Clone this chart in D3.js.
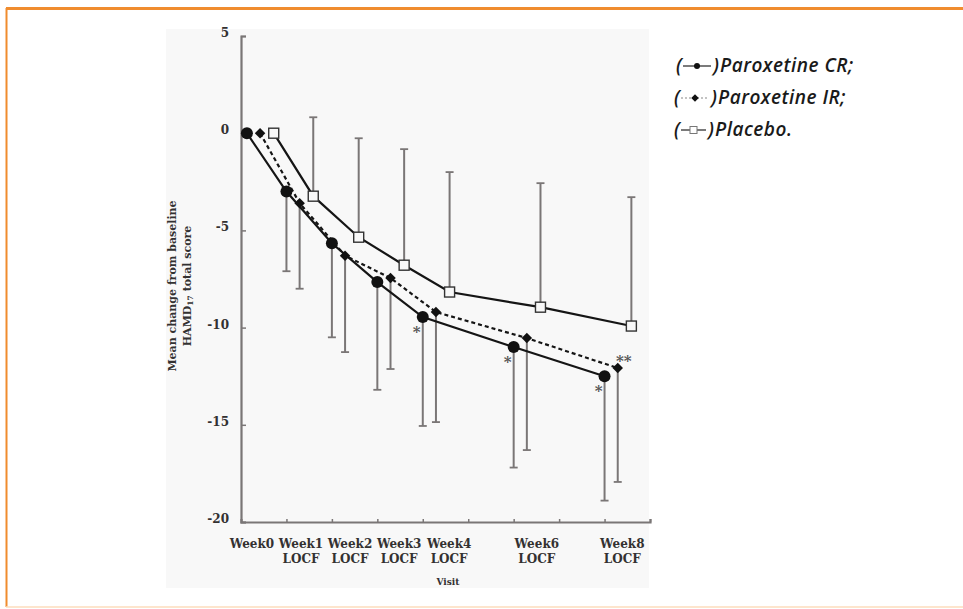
<!DOCTYPE html>
<html>
<head>
<meta charset="utf-8">
<script src="https://cdn.jsdelivr.net/npm/d3@7"></script>
<style>
  body { margin: 0; background: #fff; }
  svg { display: block; }
</style>
</head>
<body>
<div id="chart"></div>
<script>
const visits = ["Week0", "Week1", "Week2", "Week3", "Week4", "Week6", "Week8"];
const visitSub = ["", "LOCF", "LOCF", "LOCF", "LOCF", "LOCF", "LOCF"];
const visitPos = [0.13, 1, 2, 3, 4, 6, 8];
const labelPos = [0.24, 1.32, 2.4, 3.48, 4.58, 6.51, 8.39];

const crMean = [0, -3.0, -5.66, -7.66, -9.46, -11.0, -12.5];
const crLow = [null, -7.1, -10.5, -13.2, -15.06, -17.2, -18.9];
const irMean = [0, -3.6, -6.3, -7.45, -9.2, -10.54, -12.08];
const irLow = [null, -8.0, -11.26, -12.13, -14.86, -16.3, -17.94];
const pboMean = [0, -3.24, -5.35, -6.79, -8.17, -8.95, -9.92];
const pboHigh = [null, 0.82, -0.26, -0.82, -2.0, -2.57, -3.29];

const yTicks = [5, 0, -5, -10, -15, -20];
const sigMarks = [
    { visit: 4, series: "cr", text: "*" },
    { visit: 5, series: "cr", text: "*" },
    { visit: 6, series: "cr", text: "*" },
    { visit: 6, series: "ir", text: "**" }
];
const legendItems = ["Paroxetine CR;", "Paroxetine IR;", "Placebo."];

const width = 963, height = 609;
const svg = d3.select("#chart").append("svg")
    .attr("width", width)
    .attr("height", height);

// page frame
svg.append("line").attr("x1", 6).attr("x2", width).attr("y1", 8.5).attr("y2", 8.5)
    .attr("stroke", "#f08c2e").attr("stroke-width", 3);
svg.append("line").attr("x1", 6.5).attr("x2", 6.5).attr("y1", 8).attr("y2", 607)
    .attr("stroke", "#f08c2e").attr("stroke-width", 2);
svg.append("line").attr("x1", 6).attr("x2", width).attr("y1", 607).attr("y2", 607)
    .attr("stroke", "#fcdcbc").attr("stroke-width", 1.5);

// chart panel
svg.append("rect").attr("x", 166).attr("y", 29).attr("width", 483).attr("height", 559)
    .attr("fill", "#f8f8f8");

const x = d3.scaleLinear().domain([0, 9]).range([241, 650]);
const y = d3.scaleLinear().domain([-20, 5]).range([522, 36]);

const serif = "'DejaVu Serif', serif";
const axisCol = "#7a7676";
const textCol = "#333131";

// y axis
const yAxis = svg.append("g")
    .attr("transform", `translate(${x(0)},0)`)
    .call(d3.axisRight(y).tickValues(yTicks).tickSize(5).tickFormat(""));
yAxis.select(".domain").attr("stroke", axisCol).attr("stroke-width", 2.2);
yAxis.selectAll(".tick line").attr("stroke", axisCol).attr("stroke-width", 1.5);

svg.append("g").selectAll("text")
    .data(yTicks)
    .join("text")
    .attr("x", 229)
    .attr("y", d => y(d) + 1)
    .attr("text-anchor", "end")
    .style("font-family", serif)
    .style("font-size", "12px")
    .style("font-weight", "bold")
    .style("fill", textCol)
    .text(d => d < 0 ? "-" + Math.abs(d) : d);

// x axis
const xAxis = svg.append("g")
    .attr("transform", `translate(0,${y(-20)})`)
    .call(d3.axisTop(x).tickValues(d3.range(1, 10)).tickSize(3).tickFormat(""));
xAxis.select(".domain").attr("stroke", axisCol).attr("stroke-width", 2.2);
xAxis.selectAll(".tick line").attr("stroke", axisCol).attr("stroke-width", 1.5);

const xl = svg.append("g").selectAll("g")
    .data(visits)
    .join("g")
    .attr("transform", (d, i) => `translate(${x(labelPos[i])},0)`);
xl.append("text")
    .attr("y", 548)
    .text(d => d);
xl.append("text")
    .attr("y", 563)
    .text((d, i) => visitSub[i]);
xl.selectAll("text")
    .attr("text-anchor", "middle")
    .style("font-family", serif)
    .style("font-size", "12px")
    .style("font-weight", "bold")
    .style("fill", textCol);

svg.append("text")
    .attr("x", 448).attr("y", 585)
    .attr("text-anchor", "middle")
    .style("font-family", serif)
    .style("font-size", "9px")
    .style("font-weight", "bold")
    .style("fill", textCol)
    .text("Visit");

// y title
const yt = svg.append("text")
    .attr("transform", "translate(176,286) rotate(-90)")
    .attr("text-anchor", "middle")
    .style("font-family", serif)
    .style("font-size", "11px")
    .style("font-weight", "bold")
    .style("fill", textCol);
yt.append("tspan").attr("x", 0).attr("y", 0).text("Mean change from baseline");
const yt2 = yt.append("tspan").attr("x", 0).attr("y", 15).text("HAMD");
yt2.append("tspan").attr("font-size", "7.5px").attr("dy", 2).text("17");
yt.append("tspan").attr("dy", -2).text(" total score");

// series
const series = [
    { key: "cr", mean: crMean, bar: crLow, off: 0, dash: null },
    { key: "ir", mean: irMean, bar: irLow, off: 0.29, dash: "4,3" },
    { key: "pbo", mean: pboMean, bar: pboHigh, off: 0.59, dash: null }
];
series.forEach(s => {
    s.pts = s.mean.map((v, i) => ({ x: x(visitPos[i] + s.off), y: y(v), b: s.bar[i] }));
});

// error bars
series.forEach(s => {
    const g = svg.append("g");
    const bars = s.pts.filter(p => p.b !== null);
    g.selectAll("line.bar")
        .data(bars)
        .join("line")
        .attr("x1", d => d.x).attr("x2", d => d.x)
        .attr("y1", d => d.y).attr("y2", d => y(d.b))
        .attr("stroke", axisCol).attr("stroke-width", 2);
    g.selectAll("line.cap")
        .data(bars)
        .join("line")
        .attr("x1", d => d.x - 4).attr("x2", d => d.x + 4)
        .attr("y1", d => y(d.b)).attr("y2", d => y(d.b))
        .attr("stroke", axisCol).attr("stroke-width", 1.8);
});

// lines
const line = d3.line().x(d => d.x).y(d => d.y);
series.forEach(s => {
    svg.append("path")
        .datum(s.pts)
        .attr("d", line)
        .attr("fill", "none")
        .attr("stroke", "#151515")
        .attr("stroke-width", 2.2)
        .attr("stroke-dasharray", s.dash);
});

// markers
svg.append("g").selectAll("circle")
    .data(series[0].pts)
    .join("circle")
    .attr("cx", d => d.x).attr("cy", d => d.y)
    .attr("r", 6)
    .attr("fill", "#111");
svg.append("g").selectAll("path")
    .data(series[1].pts)
    .join("path")
    .attr("transform", d => `translate(${d.x},${d.y})`)
    .attr("d", d3.symbol(d3.symbolDiamond2, 70))
    .attr("fill", "#111");
svg.append("g").selectAll("rect")
    .data(series[2].pts)
    .join("rect")
    .attr("x", d => d.x - 5).attr("y", d => d.y - 5)
    .attr("width", 10).attr("height", 10)
    .attr("fill", "#f8f8f8")
    .attr("stroke", "#333")
    .attr("stroke-width", 1.4);

// significance marks
const sigOff = { cr: [-6, 20], ir: [6, -2] };
svg.append("g").selectAll("text")
    .data(sigMarks)
    .join("text")
    .attr("x", d => series.find(s => s.key === d.series).pts[d.visit].x + sigOff[d.series][0])
    .attr("y", d => series.find(s => s.key === d.series).pts[d.visit].y + sigOff[d.series][1])
    .attr("text-anchor", "middle")
    .style("font-family", serif)
    .style("font-size", "15px")
    .style("font-weight", "bold")
    .style("fill", "#555")
    .text(d => d.text);

// legend
const lg = svg.append("g").attr("transform", "translate(674,0)");
const legFont = "'Open Sans', sans-serif";
legendItems.forEach((name, i) => {
    const by = 72 + i * 32;
    const row = lg.append("g");
    const x0 = i === 0 ? 2 : 0;
    const symW = i === 2 ? 25 : 28;
    row.append("text").attr("x", x0).attr("y", by).text("(");
    const cy = by - 6;
    row.append("line")
        .attr("x1", x0 + 7).attr("x2", x0 + 7 + symW)
        .attr("y1", cy).attr("y2", cy)
        .attr("stroke", i === 1 ? "#888" : "#222")
        .attr("stroke-width", 1.2)
        .attr("stroke-dasharray", i === 1 ? "2,2" : null);
    const mx = x0 + 7 + symW / 2;
    if (i === 0) {
        row.append("circle").attr("cx", mx).attr("cy", cy).attr("r", 3).attr("fill", "#111");
    } else if (i === 1) {
        row.append("path").attr("transform", `translate(${mx},${cy})`)
            .attr("d", d3.symbol(d3.symbolDiamond2, 36)).attr("fill", "#111");
    } else {
        row.append("rect").attr("x", mx - 3.5).attr("y", cy - 3.5)
            .attr("width", 7).attr("height", 7)
            .attr("fill", "#fff").attr("stroke", "#777").attr("stroke-width", 1);
    }
    row.append("text").attr("x", x0 + 9 + symW).attr("y", by).text(")");
    row.append("text").attr("x", x0 + 16 + symW).attr("y", by).text(name);
    row.selectAll("text")
        .style("font-family", legFont)
        .style("font-style", "italic")
        .style("font-size", "19px")
        .style("font-weight", "600")
        .style("letter-spacing", "0.5px")
        .style("fill", "#1a1a1a");
});
</script>
</body>
</html>
